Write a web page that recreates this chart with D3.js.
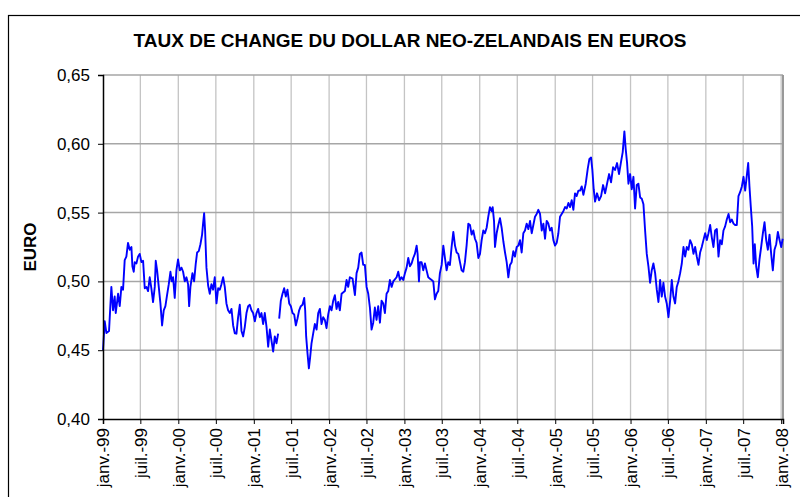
<!DOCTYPE html>
<html>
<head>
<meta charset="utf-8">
<script src="https://cdn.jsdelivr.net/npm/d3@7"></script>
<style>
  body { margin: 0; background: #fff; }
  svg text { font-family: "Liberation Sans", Arial, sans-serif; fill: #000; }
</style>
</head>
<body>
<div id="chart"></div>
<script>
// years elapsed since 1 Jan 1999
var yearsSince1999 = [
  0.000,0.023,0.045,0.080,0.111,0.133,0.155,0.169,0.200,0.222,0.244,0.266,0.288,0.310,0.332,0.355,0.377,0.390,0.408,0.421,
  0.443,0.465,0.487,0.510,0.532,0.554,0.576,0.598,0.620,0.642,0.664,0.687,0.700,0.718,0.740,0.762,0.784,0.806,0.828,0.850,
  0.873,0.895,0.912,0.930,0.952,0.974,0.996,1.019,1.041,1.063,1.085,1.107,1.129,1.143,1.160,1.187,1.209,1.231,1.249,1.271,
  1.293,1.315,1.328,1.342,1.355,1.373,1.395,1.417,1.439,1.461,1.483,1.506,1.528,1.550,1.572,1.594,1.616,1.638,1.660,1.683,
  1.705,1.727,1.749,1.771,1.793,1.815,1.838,1.860,1.882,1.904,1.926,1.948,1.970,1.992,2.015,2.037,2.059,2.081,2.103,2.125,
  2.147,2.170,2.192,2.214,2.236,2.258,2.280,2.302,2.324,2.331,2.338,2.360,2.382,2.404,2.426,2.448,2.471,2.493,2.515,2.537,
  2.559,2.581,2.603,2.625,2.648,2.670,2.683,2.696,2.714,2.732,2.749,2.767,2.789,2.811,2.834,2.856,2.878,2.900,2.922,2.944,
  2.966,2.989,3.011,3.033,3.055,3.077,3.099,3.121,3.143,3.166,3.210,3.232,3.254,3.276,3.312,3.343,3.365,3.387,3.409,3.431,
  3.453,3.475,3.498,3.520,3.542,3.564,3.586,3.608,3.630,3.652,3.675,3.697,3.719,3.741,3.763,3.785,3.807,3.830,3.852,3.896,
  3.918,3.940,3.962,3.985,4.007,4.029,4.051,4.073,4.095,4.117,4.139,4.162,4.175,4.193,4.206,4.228,4.250,4.272,4.294,4.316,
  4.339,4.361,4.383,4.405,4.427,4.449,4.471,4.494,4.516,4.538,4.560,4.582,4.604,4.626,4.649,4.671,4.693,4.715,4.737,4.759,
  4.781,4.803,4.825,4.848,4.870,4.892,4.914,4.936,4.958,4.981,5.003,5.025,5.047,5.069,5.091,5.113,5.135,5.158,5.171,5.189,
  5.202,5.224,5.246,5.268,5.290,5.313,5.335,5.357,5.379,5.401,5.423,5.445,5.467,5.490,5.512,5.534,5.556,5.578,5.600,5.622,
  5.645,5.667,5.689,5.711,5.733,5.755,5.777,5.800,5.822,5.844,5.866,5.888,5.910,5.932,5.954,5.977,5.999,6.021,6.043,6.065,
  6.087,6.109,6.132,6.154,6.176,6.198,6.220,6.242,6.264,6.286,6.309,6.331,6.353,6.375,6.406,6.433,6.455,6.477,6.494,6.512,
  6.530,6.556,6.583,6.610,6.636,6.663,6.689,6.716,6.742,6.769,6.795,6.822,6.848,6.875,6.897,6.919,6.937,6.955,6.973,6.995,
  7.017,7.039,7.061,7.083,7.105,7.128,7.150,7.172,7.194,7.216,7.238,7.260,7.282,7.304,7.327,7.349,7.371,7.393,7.415,7.437,
  7.459,7.481,7.504,7.526,7.548,7.570,7.592,7.614,7.636,7.659,7.681,7.703,7.725,7.747,7.769,7.791,7.814,7.836,7.858,7.880,
  7.902,7.924,7.946,7.968,7.991,8.013,8.035,8.057,8.079,8.101,8.123,8.146,8.168,8.190,8.212,8.234,8.256,8.278,8.301,8.323,
  8.345,8.367,8.389,8.411,8.433,8.456,8.478,8.500,8.522,8.544,8.562,8.579,8.597,8.615,8.633,8.650,8.668,8.690,8.712,8.734,
  8.757,8.779,8.801,8.823,8.845,8.867,8.889,8.911,8.934,8.956,8.978,9.000,9.020
];
// NZD in EUR (null = missing quotes)
var eurPerNzd = [
  0.450,0.471,0.4625,0.464,0.496,0.479,0.489,0.477,0.491,0.482,0.496,0.494,0.5155,0.518,0.528,0.523,0.525,0.511,0.507,0.514,
  0.513,0.518,0.520,0.514,0.515,0.495,0.496,0.493,0.503,0.495,0.485,0.496,0.515,0.508,0.496,0.484,0.468,0.479,0.482,0.490,
  0.498,0.507,0.500,0.503,0.488,0.508,0.516,0.508,0.510,0.507,0.500,0.503,0.498,0.482,0.496,0.506,0.500,0.513,0.521,0.522,
  0.527,0.534,0.542,0.5495,0.537,0.510,0.497,0.491,0.498,0.494,0.503,0.484,0.495,0.494,0.498,0.503,0.496,0.484,0.479,0.477,
  0.480,0.468,0.4623,0.462,0.474,0.483,0.464,0.460,0.467,0.477,0.482,0.483,0.479,0.477,0.471,0.477,0.480,0.474,0.477,0.469,
  0.477,0.467,0.4525,0.465,0.457,0.449,0.460,0.455,0.462,null,0.473,0.486,0.491,0.495,0.489,0.494,0.484,0.482,0.477,0.476,
  0.468,0.473,0.479,0.482,0.483,0.488,0.479,0.460,0.4477,0.4368,0.445,0.455,0.462,0.469,0.465,0.477,0.480,0.469,0.474,0.472,
  0.466,0.476,0.482,0.479,0.486,0.490,0.480,0.485,0.479,0.491,0.493,0.501,0.496,0.503,0.502,0.490,0.506,0.510,0.520,0.521,
  0.512,0.512,0.496,0.491,0.481,0.465,0.470,0.481,0.472,0.482,0.470,0.486,0.484,0.477,0.491,0.493,0.501,0.496,0.500,0.503,
  0.507,0.501,0.503,0.501,0.506,0.510,0.517,0.511,0.513,0.517,0.520,0.526,0.520,0.500,0.514,0.514,0.508,0.513,0.508,0.503,
  0.502,0.501,0.500,0.487,0.491,0.493,0.506,0.512,0.526,0.517,0.508,0.514,0.512,0.525,0.536,0.526,0.521,0.520,0.514,0.508,
  0.507,0.514,0.526,0.542,0.541,0.534,0.537,0.531,0.528,0.517,0.520,0.530,0.537,0.535,0.539,0.547,0.554,0.551,0.554,0.544,
  0.525,0.535,0.541,0.546,0.539,0.529,0.521,0.514,0.503,0.512,0.514,0.522,0.518,0.525,0.526,0.530,0.521,0.535,0.537,0.542,
  0.538,0.544,0.535,0.541,0.547,0.549,0.552,0.549,0.537,0.542,0.531,0.544,0.542,0.537,0.539,0.530,0.526,0.528,0.535,0.547,
  0.549,0.551,0.554,0.553,0.557,0.554,0.559,0.552,0.564,0.562,0.566,0.566,0.569,0.563,0.571,0.582,0.589,0.590,0.581,0.567,
  0.558,0.564,0.559,0.562,0.570,0.564,0.571,0.578,0.572,0.583,0.581,0.586,0.578,0.587,0.594,0.609,0.596,0.586,0.571,0.578,
  0.567,0.576,0.553,0.570,0.571,0.561,0.560,0.556,0.537,0.520,0.511,0.499,0.508,0.513,0.506,0.494,0.485,0.501,0.489,0.499,
  0.489,0.484,0.474,0.486,0.501,0.489,0.484,0.496,0.500,0.506,0.513,0.525,0.518,0.525,0.523,0.530,0.527,0.520,0.525,0.518,
  0.512,0.521,0.525,0.530,0.535,0.530,0.535,0.541,0.532,0.525,0.537,0.538,0.518,0.530,0.527,0.537,0.540,0.545,0.549,0.543,
  0.545,0.542,0.541,0.541,0.562,0.565,0.569,0.576,0.566,0.577,0.586,0.569,0.554,0.540,0.513,0.527,0.511,0.503,0.516,0.525,
  0.535,0.543,0.530,0.523,0.534,0.520,0.508,0.523,0.527,0.536,0.530,0.525,0.531
];
var yTicks = [0.40, 0.45, 0.50, 0.55, 0.60, 0.65];
var monthNames = ["janv.", "févr.", "mars", "avr.", "mai", "juin", "juil.", "août", "sept.", "oct.", "nov.", "déc."];

var W = 800, H = 497;
var margin = {top: 75, right: 17, bottom: 78, left: 103};
var width = W - margin.left - margin.right,
    height = H - margin.top - margin.bottom;

var start = Date.UTC(1999, 0, 1);
function toDate(t) { return new Date(start + t * 365.25 * 864e5); }

var data = yearsSince1999.map(function(t, i) { return {date: toDate(t), value: eurPerNzd[i]}; });

var svg = d3.select("#chart").append("svg")
    .attr("width", W)
    .attr("height", H);

// outer chart frame
svg.append("rect")
    .attr("x", 8.5).attr("y", 15.5)
    .attr("width", W).attr("height", H)
    .attr("fill", "none").attr("stroke", "#000").attr("stroke-width", 1.2);

svg.append("text")
    .attr("x", 410).attr("y", 47)
    .attr("text-anchor", "middle")
    .style("font-size", "19px").style("font-weight", "bold")
    .text("TAUX DE CHANGE DU DOLLAR NEO-ZELANDAIS EN EUROS");

var g = svg.append("g")
    .attr("transform", "translate(" + margin.left + "," + margin.top + ")");

var x = d3.scaleUtc()
    .domain([new Date(start), new Date(Date.UTC(2008, 0, 10))])
    .range([0, width]);
var y = d3.scaleLinear()
    .domain([0.40, 0.65])
    .range([height, 0]);

var xTicks = d3.utcMonth.every(6).range(new Date(start), new Date(Date.UTC(2008, 0, 2)));

// grid
g.selectAll(".vgrid").data(xTicks.slice(1)).enter().append("line")
    .attr("class", "vgrid")
    .attr("x1", function(d) { return x(d); }).attr("x2", function(d) { return x(d); })
    .attr("y1", 0).attr("y2", height)
    .attr("stroke", "#c4c4c4").attr("stroke-width", 1.3);
g.selectAll(".hgrid").data(yTicks.slice(1)).enter().append("line")
    .attr("class", "hgrid")
    .attr("x1", 0).attr("x2", width)
    .attr("y1", function(d) { return y(d); }).attr("y2", function(d) { return y(d); })
    .attr("stroke", "#a6a6a6").attr("stroke-width", 1.5);
// right plot border
g.append("line")
    .attr("x1", width).attr("x2", width).attr("y1", 0).attr("y2", height)
    .attr("stroke", "#999").attr("stroke-width", 2);

// the series
var line = d3.line()
    .defined(function(d) { return d.value !== null; })
    .x(function(d) { return x(d.date); })
    .y(function(d) { return y(d.value); });
g.append("path")
    .datum(data)
    .attr("d", line)
    .attr("fill", "none")
    .attr("stroke", "#0000ff")
    .attr("stroke-width", 1.9)
    .attr("stroke-linejoin", "round");

// axes
var xAxis = g.append("g")
    .attr("transform", "translate(0," + height + ")")
    .call(d3.axisBottom(x).tickValues(xTicks).tickSize(5)
      .tickFormat(function(d) { return monthNames[d.getUTCMonth()] + "-" + d3.utcFormat("%y")(d); }));
xAxis.select(".domain").attr("stroke-width", 1.5);
xAxis.selectAll("text")
    .style("font-size", "17px")
    .attr("text-anchor", "end")
    .attr("transform", "rotate(-90)")
    .attr("x", -9).attr("y", 0).attr("dy", "0.35em");

var yAxis = g.append("g")
    .call(d3.axisLeft(y).tickValues(yTicks).tickSize(5)
      .tickFormat(function(d) { return d3.format(".2f")(d).replace(".", ","); }));
yAxis.select(".domain").attr("stroke-width", 1.5);
yAxis.selectAll("text").style("font-size", "17px").attr("x", -13);

svg.append("text")
    .attr("transform", "translate(36," + (margin.top + height / 2) + ") rotate(-90)")
    .attr("text-anchor", "middle")
    .style("font-size", "17px").style("font-weight", "bold")
    .text("EURO");
</script>
</body>
</html>
